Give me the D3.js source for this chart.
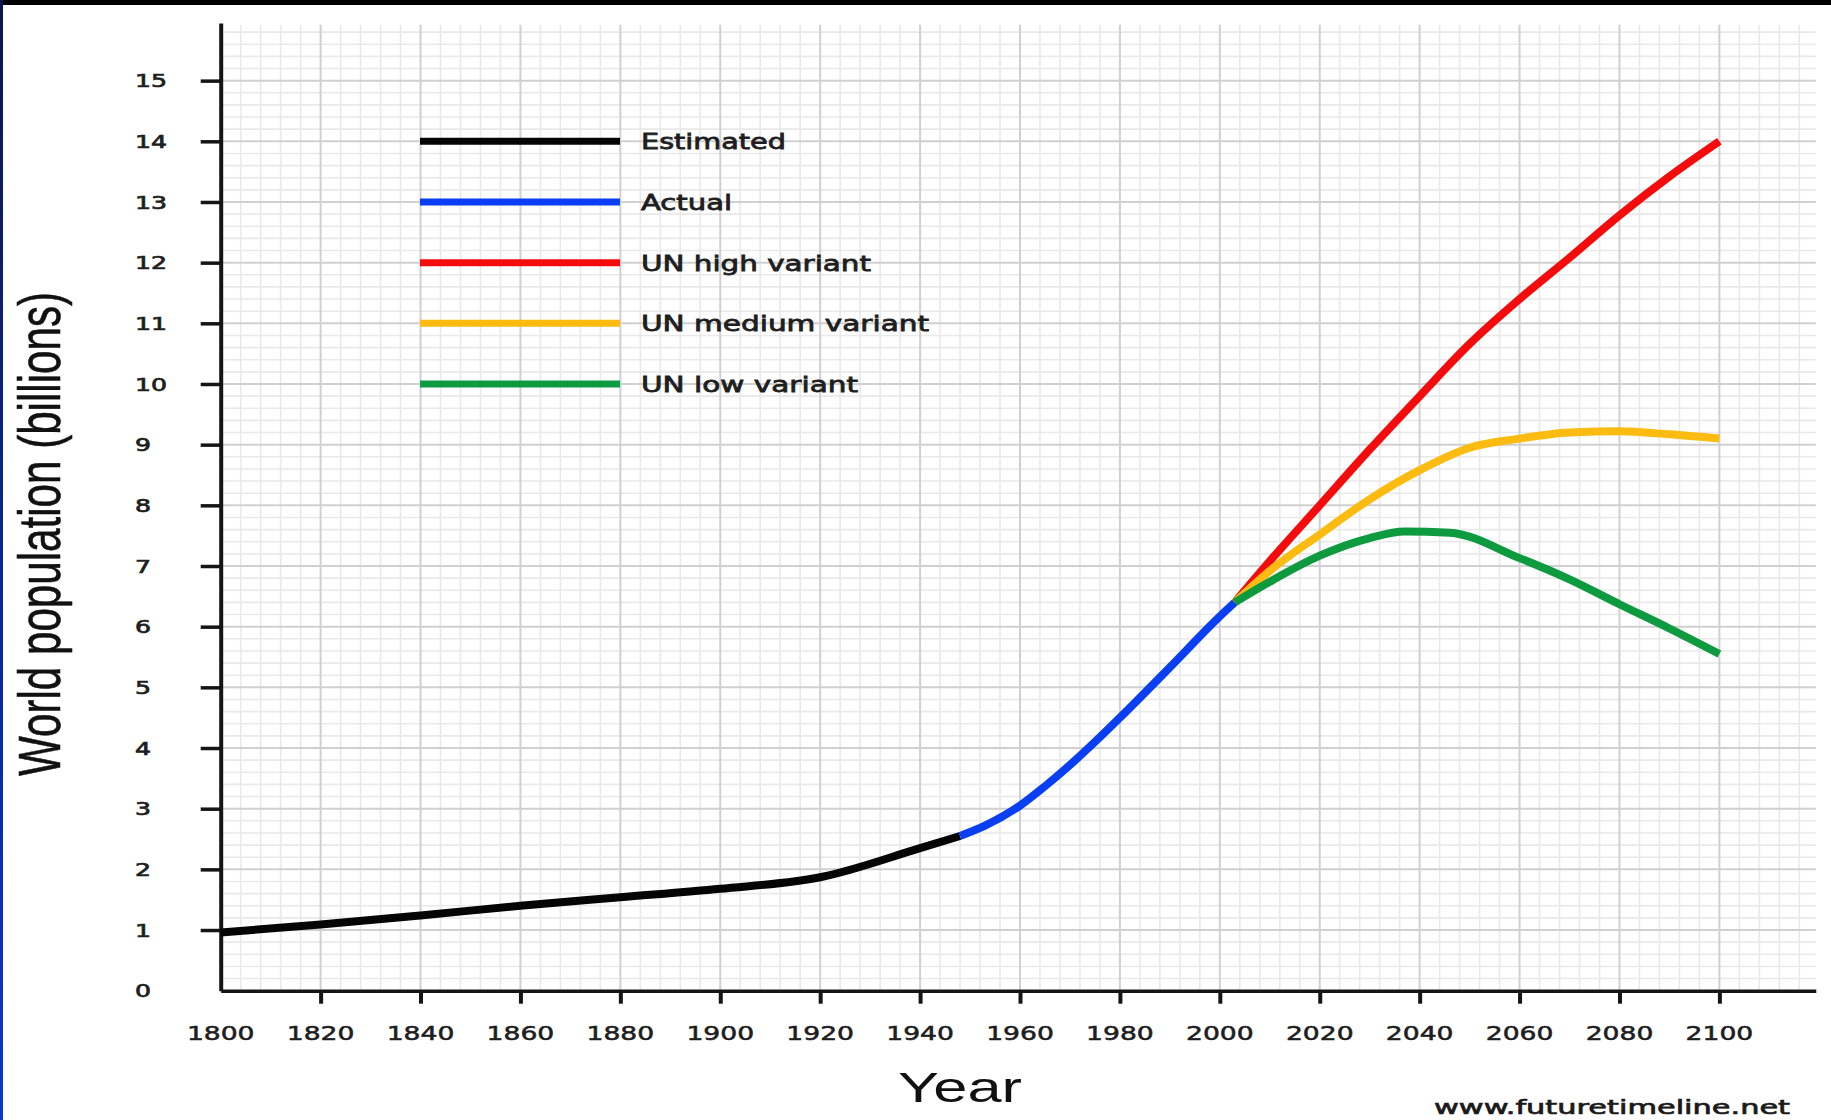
<!DOCTYPE html>
<html>
<head>
<meta charset="utf-8">
<script src="https://cdn.jsdelivr.net/npm/d3@7"></script>
<style>
html, body { margin: 0; padding: 0; background: #ffffff; }
svg { display: block; }
</style>
</head>
<body>
<svg id="chart" width="1831" height="1120"></svg>
<script>
// ---------------- data ----------------
const estimatedYears  = [1800, 1820, 1840, 1860, 1880, 1900, 1920, 1940, 1948];
const estimatedValues = [0.96, 1.09, 1.24, 1.40, 1.54, 1.68, 1.87, 2.35, 2.55];

const actualYears  = [1948, 1953, 1960, 1965, 1970, 1975, 1980, 1990, 2000, 2003];
const actualValues = [2.55, 2.72, 3.05, 3.37, 3.72, 4.10, 4.50, 5.33, 6.17, 6.40];

const projectionYears = [2003, 2010, 2020, 2030, 2040, 2050, 2060, 2070, 2080, 2090, 2100];
const highValues      = [6.40, 7.08, 8.00, 8.92, 9.80, 10.66, 11.40, 12.08, 12.78, 13.42, 14.00];
const mediumValues    = [6.40, 6.92, 7.52, 8.10, 8.58, 8.95, 9.10, 9.20, 9.22, 9.17, 9.10];

const lowYears  = [2003, 2010, 2020, 2030, 2037, 2046, 2060, 2070, 2080, 2090, 2100];
const lowValues = [6.40, 6.74, 7.17, 7.46, 7.57, 7.55, 7.13, 6.78, 6.37, 5.97, 5.55];

const yTickValues = [0, 1, 2, 3, 4, 5, 6, 7, 8, 9, 10, 11, 12, 13, 14, 15];
const xTickValues = [1800, 1820, 1840, 1860, 1880, 1900, 1920, 1940, 1960, 1980, 2000, 2020, 2040, 2060, 2080, 2100];

const seriesNames  = ["Estimated", "Actual", "UN high variant", "UN medium variant", "UN low variant"];
const seriesColors = ["#050505", "#0a3ef2", "#f40c0c", "#fcbb10", "#0e9a3f"];

const xAxisTitle = "Year";
const yAxisTitle = "World population (billions)";
const sourceText = "www.futuretimeline.net";

// ---------------- layout / style ----------------
const W = 1831, H = 1120;
const svg = d3.select("#chart");

const x = d3.scaleLinear().domain([1800, 2119.3]).range([220.7, 1815.8]);
const y = d3.scaleLinear().domain([0, 15.95]).range([990.7, 23]);

const defs = svg.append("defs");
const grad = defs.append("linearGradient").attr("id", "edge").attr("x1", 0).attr("y1", 0).attr("x2", 0).attr("y2", 1);
grad.append("stop").attr("offset", "0%").attr("stop-color", "#0a1550");
grad.append("stop").attr("offset", "100%").attr("stop-color", "#0b36d2");
svg.append("rect").attr("x", 0).attr("y", 0).attr("width", W).attr("height", H).attr("fill", "#ffffff");

// ---------------- grid ----------------
const grid = svg.append("g");
const minorYears = d3.range(1804, 2119, 4).filter(v => v % 20 !== 0);
const majorYears = d3.range(1820, 2119, 20);
const minorVals = d3.range(1, 80).map(i => i / 5).filter(v => Math.abs(v - Math.round(v)) > 1e-6 && v < 15.9);
const majorVals = d3.range(1, 16);

grid.selectAll("line.vmin").data(minorYears).join("line")
  .attr("x1", d => x(d)).attr("x2", d => x(d))
  .attr("y1", y(0)).attr("y2", y(15.92))
  .attr("stroke", "#e9e9e9").attr("stroke-width", 1.6);
grid.selectAll("line.hmin").data(minorVals).join("line")
  .attr("x1", x(1800)).attr("x2", x(2119.3))
  .attr("y1", d => y(d)).attr("y2", d => y(d))
  .attr("stroke", "#e9e9e9").attr("stroke-width", 1.6);
grid.selectAll("line.vmaj").data(majorYears).join("line")
  .attr("x1", d => x(d)).attr("x2", d => x(d))
  .attr("y1", y(0)).attr("y2", y(15.92))
  .attr("stroke", "#d0d0d0").attr("stroke-width", 2);
grid.selectAll("line.hmaj").data(majorVals).join("line")
  .attr("x1", x(1800)).attr("x2", x(2119.3))
  .attr("y1", d => y(d)).attr("y2", d => y(d))
  .attr("stroke", "#d0d0d0").attr("stroke-width", 2);

// ---------------- axes ----------------
const axisColor = "#151515";
const yAxis = svg.append("g").attr("transform", `translate(${x(1800)},0)`)
  .call(d3.axisLeft(y).tickValues(yTickValues.filter(v => v > 0)).tickSize(20).tickSizeOuter(0).tickFormat(""));
yAxis.select(".domain").attr("stroke", axisColor).attr("stroke-width", 4);
yAxis.selectAll(".tick line").attr("stroke", axisColor).attr("stroke-width", 3.5);

const xAxis = svg.append("g").attr("transform", `translate(0,${y(0)})`)
  .call(d3.axisBottom(x).tickValues(xTickValues.filter(v => v > 1800)).tickSize(13).tickSizeOuter(0).tickFormat(""));
xAxis.select(".domain").attr("stroke", axisColor).attr("stroke-width", 3.5);
xAxis.selectAll(".tick line").attr("stroke", axisColor).attr("stroke-width", 4);

// tick labels (horizontally stretched like the reference)
svg.append("g").selectAll("text").data(yTickValues).join("text")
  .attr("transform", d => `translate(135,${y(d) + 6.6}) scale(1.4,1)`)
  .attr("font-family", "DejaVu Sans").attr("font-size", 18)
  .attr("fill", "#1e1e1e").attr("stroke", "#1e1e1e").attr("stroke-width", 0.7)
  .attr("text-anchor", "start")
  .text(d => d);

svg.append("g").selectAll("text").data(xTickValues).join("text")
  .attr("transform", d => `translate(${x(d)},1039.5) scale(1.33,1)`)
  .attr("font-family", "DejaVu Sans").attr("font-size", 20)
  .attr("fill", "#1e1e1e").attr("stroke", "#1e1e1e").attr("stroke-width", 0.55)
  .attr("text-anchor", "middle")
  .text(d => d);

// axis titles
svg.append("text")
  .attr("x", 898).attr("y", 1102)
  .attr("font-family", "Liberation Sans").attr("font-size", 42)
  .attr("textLength", 124).attr("lengthAdjust", "spacingAndGlyphs")
  .attr("fill", "#111").text(xAxisTitle);

svg.append("text")
  .attr("transform", "translate(59.5,534) scale(1.4,1) rotate(-90)")
  .attr("font-family", "Liberation Sans").attr("font-size", 42)
  .attr("text-anchor", "middle")
  .attr("textLength", 484).attr("lengthAdjust", "spacingAndGlyphs")
  .attr("fill", "#111").attr("stroke", "#111").attr("stroke-width", 0.4)
  .text(yAxisTitle);

// source
svg.append("text")
  .attr("x", 1434).attr("y", 1114)
  .attr("font-family", "DejaVu Sans").attr("font-size", 20)
  .attr("textLength", 356).attr("lengthAdjust", "spacingAndGlyphs")
  .attr("fill", "#1a1a1a").attr("stroke", "#1a1a1a").attr("stroke-width", 0.7)
  .text(sourceText);

// ---------------- lines ----------------
const line = d3.line().x(d => x(d[0])).y(d => y(d[1])).curve(d3.curveMonotoneX);
const zip = (a, b) => a.map((v, i) => [v, b[i]]);
const seriesData = [
  zip(estimatedYears, estimatedValues),
  zip(actualYears, actualValues),
  zip(projectionYears, highValues),
  zip(projectionYears, mediumValues),
  zip(lowYears, lowValues)
];
const drawOrder = [0, 1, 2, 3, 4];
svg.append("g").selectAll("path").data(drawOrder).join("path")
  .attr("d", i => line(seriesData[i]))
  .attr("fill", "none")
  .attr("stroke", i => seriesColors[i])
  .attr("stroke-width", 8)
  .attr("stroke-linejoin", "round")
  .attr("stroke-linecap", "butt");

// ---------------- legend ----------------
const legendTextLengths = [145, 91, 230, 288, 217];
const legend = svg.append("g");
const legendRows = legend.selectAll("g").data(seriesNames).join("g")
  .attr("transform", (d, i) => `translate(0,${141.3 + i * 60.67})`);
legendRows.append("line")
  .attr("x1", 420).attr("x2", 620).attr("y1", 0).attr("y2", 0)
  .attr("stroke", (d, i) => seriesColors[i]).attr("stroke-width", 7);
legendRows.append("text")
  .attr("x", 641).attr("y", 8)
  .attr("font-family", "DejaVu Sans").attr("font-size", 22)
  .attr("textLength", (d, i) => legendTextLengths[i]).attr("lengthAdjust", "spacingAndGlyphs")
  .attr("fill", "#1e1e1e").attr("stroke", "#1e1e1e").attr("stroke-width", 0.8)
  .text(d => d);

// frame edges on top
svg.append("rect").attr("x", 0).attr("y", 0).attr("width", W).attr("height", 5).attr("fill", "#000");
svg.append("rect").attr("x", 0).attr("y", 0).attr("width", 3).attr("height", H).attr("fill", "url(#edge)");
</script>
</body>
</html>
